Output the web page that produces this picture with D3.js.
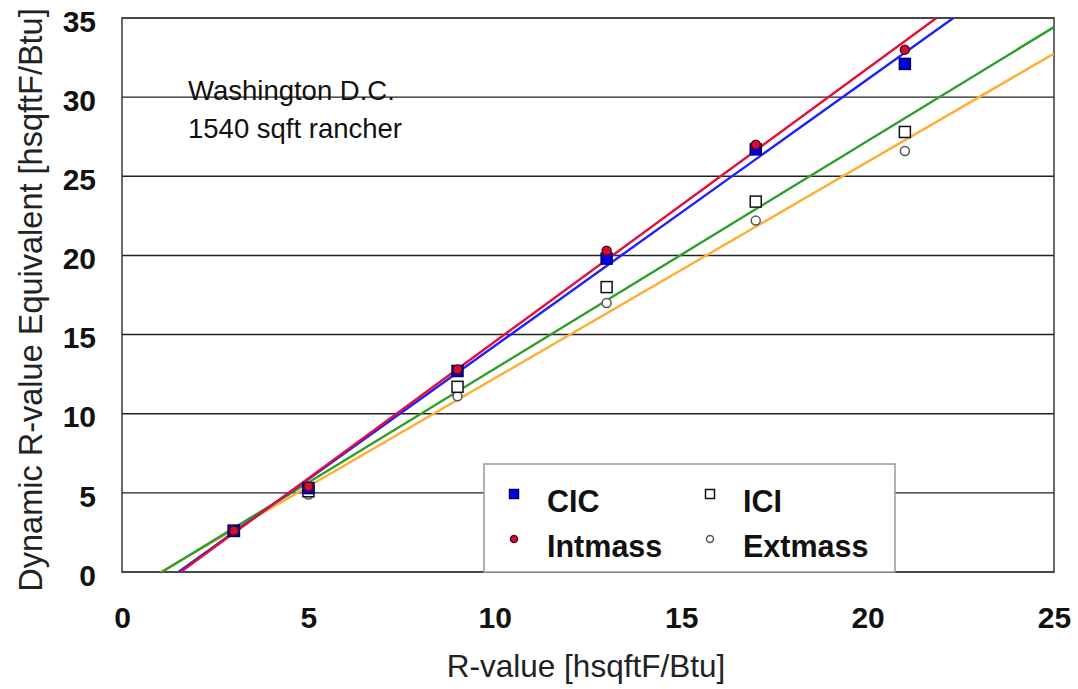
<!DOCTYPE html>
<html lang="en">
<head>
<meta charset="UTF-8">
<title>Dynamic R-value</title>
<script src="https://d3js.org/d3.v7.min.js"></script>
<style>
  body { margin: 0; background: white; font-family: Arial, "Liberation Sans", Helvetica, sans-serif; }
  .tick text { font-weight: bold; font-size: 30px; fill: #111; }
</style>
</head>
<body>
<div id="chart"></div>
<script>
// R-values of the wall cases
var rValues = [3, 5, 9, 13, 17, 21];
// Dynamic R-value equivalents
var cic     = [2.6, 5.3, 12.7, 19.8, 26.7, 32.1];
var intmass = [2.6, 5.4, 12.8, 20.3, 27.0, 33.0];
var ici     = [2.6, 5.1, 11.7, 18.0, 23.4, 27.8];
var extmass = [2.6, 4.9, 11.1, 17.0, 22.2, 26.6];
var xTicks = [0, 5, 10, 15, 20, 25];
var yTicks = [0, 5, 10, 15, 20, 25, 30, 35];

var width = 1078, height = 689;
var margin = {top: 18, right: 24, bottom: 117, left: 122};

var svg = d3.select("#chart").append("svg")
  .attr("width", width)
  .attr("height", height);

var x = d3.scaleLinear().domain([0, 25]).range([margin.left, width - margin.right]);
var y = d3.scaleLinear().domain([0, 35]).range([height - margin.bottom, margin.top]);

// horizontal grid
svg.append("g").selectAll("line")
  .data(yTicks)
  .enter().append("line")
  .attr("x1", x(0)).attr("x2", x(25))
  .attr("y1", function(d) { return y(d); })
  .attr("y2", function(d) { return y(d); })
  .attr("stroke", "#222").attr("stroke-width", 1.4);

// plot frame
svg.append("rect")
  .attr("x", x(0)).attr("y", y(35))
  .attr("width", x(25) - x(0)).attr("height", y(0) - y(35))
  .attr("fill", "none").attr("stroke", "#444").attr("stroke-width", 1.6);

// axes (labels only)
svg.append("g")
  .attr("transform", "translate(0," + y(0) + ")")
  .call(d3.axisBottom(x).tickValues(xTicks).tickSize(0).tickPadding(35))
  .call(function(g) { g.select(".domain").remove(); });

svg.append("g")
  .attr("transform", "translate(" + x(0) + ",0)")
  .call(d3.axisLeft(y).tickValues(yTicks).tickSize(0).tickPadding(26))
  .call(function(g) {
    g.select(".domain").remove();
    g.selectAll(".tick text").attr("dy", "0.44em");
  });

svg.append("text")
  .attr("x", 586)
  .attr("y", 677)
  .attr("text-anchor", "middle")
  .style("font-size", "31.5px").style("fill", "#222")
  .text("R-value [hsqftF/Btu]");

svg.append("text")
  .attr("transform", "translate(42," + 300 + ") rotate(-90)")
  .attr("text-anchor", "middle")
  .style("font-size", "32.5px").style("fill", "#222")
  .text("Dynamic R-value Equivalent [hsqftF/Btu]");

// annotation
svg.append("text").attr("x", 188).attr("y", 100)
  .style("font-size", "27.5px").style("fill", "#111").text("Washington D.C.");
svg.append("text").attr("x", 188).attr("y", 138)
  .style("font-size", "27.5px").style("fill", "#111").text("1540 sqft rancher");

var series = [
  {name: "Extmass", values: extmass, line: "#ffad33", shape: "circle", fill: "white", stroke: "#555"},
  {name: "ICI", values: ici, line: "#2ca02c", shape: "square", fill: "white", stroke: "#111"},
  {name: "CIC", values: cic, line: "#1f1fff", shape: "square", fill: "#0000e6", stroke: "#000066"},
  {name: "Intmass", values: intmass, line: "#e0103a", shape: "circle", fill: "#cc1133", stroke: "#6a0018"}
];

// least squares trend line
function fit(xs, ys) {
  var mx = d3.mean(xs), my = d3.mean(ys);
  var sxy = d3.sum(xs, function(v, i) { return (v - mx) * (ys[i] - my); });
  var sxx = d3.sum(xs, function(v) { return (v - mx) * (v - mx); });
  var m = sxy / sxx;
  return {m: m, b: my - m * mx};
}

svg.append("clipPath").attr("id", "plotclip")
  .append("rect")
  .attr("x", x(0)).attr("y", y(35))
  .attr("width", x(25) - x(0)).attr("height", y(0) - y(35));

var lines = svg.append("g").attr("clip-path", "url(#plotclip)");
series.forEach(function(s) {
  var f = fit(rValues, s.values);
  var x0 = -f.b / f.m;
  var x1 = Math.min(25, (35 - f.b) / f.m);
  lines.append("line")
    .attr("x1", x(x0)).attr("y1", y(f.m * x0 + f.b))
    .attr("x2", x(x1)).attr("y2", y(f.m * x1 + f.b))
    .attr("stroke", s.line).attr("stroke-width", 2.4);
});

function drawMarker(g, s, cx, cy, size) {
  if (s.shape === "square") {
    g.append("rect")
      .attr("x", cx - size / 2).attr("y", cy - size / 2)
      .attr("width", size).attr("height", size)
      .attr("fill", s.fill).attr("stroke", s.stroke).attr("stroke-width", 1.5);
  } else {
    g.append("circle")
      .attr("cx", cx).attr("cy", cy).attr("r", size / 2)
      .attr("fill", s.fill).attr("stroke", s.stroke).attr("stroke-width", 1.5);
  }
}

var points = svg.append("g");
series.forEach(function(s) {
  s.values.forEach(function(v, i) {
    drawMarker(points, s, x(rValues[i]), y(v), s.shape === "square" ? 11 : 9);
  });
});

// legend
var legend = svg.append("g");
legend.append("rect")
  .attr("x", 484).attr("y", 464).attr("width", 411).attr("height", 108)
  .attr("fill", "white").attr("stroke", "#999").attr("stroke-width", 1.5);

var legendItems = [
  {s: series[2], col: 0, row: 0},
  {s: series[1], col: 1, row: 0},
  {s: series[3], col: 0, row: 1},
  {s: series[0], col: 1, row: 1}
];
legendItems.forEach(function(d) {
  var lx = 514 + d.col * 196, ly = 494 + d.row * 45;
  drawMarker(legend, d.s, lx, ly, d.s.shape === "square" ? 9 : 7);
  legend.append("text")
    .attr("x", lx + 33).attr("y", ly + 18)
    .style("font-size", "30.5px").style("font-weight", "bold").style("fill", "#111")
    .text(d.s.name);
});
</script>
</body>
</html>
